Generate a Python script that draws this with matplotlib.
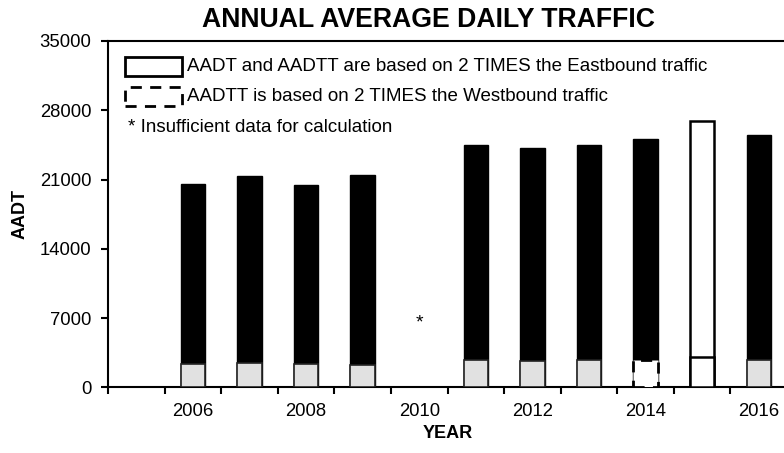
import numpy as np
import matplotlib.pyplot as plt
from matplotlib.patches import Rectangle

plt.rcParams['font.family'] = ['Liberation Sans', 'DejaVu Sans']

# -------------------------------------------------
# Data
# -------------------------------------------------
years = [2006, 2007, 2008, 2009, 2011, 2012, 2013, 2014, 2015, 2016]
aadt = [20600, 21400, 20500, 21500, 24500, 24200, 24500, 25100, 26900, 25500]
aadtt = [2350, 2500, 2350, 2250, 2730, 2700, 2730, 2780, 3050, 2780]
missing_years = [2010]
east_years = [2015]      # AADT and AADTT from 2x eastbound
west_years = [2014]      # AADTT from 2x westbound

yticks = [0, 7000, 14000, 21000, 28000, 35000]
xlabels = [2006, 2008, 2010, 2012, 2014, 2016]

legend_lines = ["AADT and AADTT are based on 2 TIMES the Eastbound traffic",
                "AADTT is based on 2 TIMES the Westbound traffic",
                "* Insufficient data for calculation"]

# -------------------------------------------------
# Plot
# -------------------------------------------------
fig = plt.figure(figsize=(7.84, 4.53), dpi=100)
ax = fig.add_axes([0.1378, 0.1446, 0.866, 0.765])

w = 0.43
for yr, v, t in zip(years, aadt, aadtt):
    if yr in east_years:
        ax.bar(yr, v, w, facecolor='white', edgecolor='black', linewidth=1.8, zorder=2)
        ax.bar(yr, t, w, facecolor='white', edgecolor='black', linewidth=1.8, zorder=3)
    elif yr in west_years:
        ax.bar(yr, v, w, facecolor='black', edgecolor='black', linewidth=1, zorder=2)
        ax.bar(yr, t, w, facecolor='white', edgecolor='black', linewidth=2,
               linestyle=(0, (4, 3)), zorder=3)
    else:
        ax.bar(yr, v, w, facecolor='black', edgecolor='black', linewidth=1, zorder=2)
        ax.bar(yr, t, w, facecolor='#e1e1e1', edgecolor='#222222', linewidth=1.2, zorder=3)

for yr in missing_years:
    ax.text(yr, 6500, '*', ha='center', va='center', fontsize=14)

ax.set_xlim(2004.5, 2016.5)
ax.set_ylim(0, 35000)
ax.set_yticks(yticks)
ax.set_xticks(xlabels)
ax.set_xticks(np.arange(2004.5, 2017, 1.0), minor=True)
ax.tick_params(axis='x', which='major', length=0, labelsize=13.3, pad=11)
ax.tick_params(axis='x', which='minor', length=5, width=1.5, direction='out')
ax.tick_params(axis='y', length=5, width=1.5, direction='out', labelsize=13.3, pad=7)
for s in ax.spines.values():
    s.set_linewidth(1.5)

ax.set_xlabel("YEAR", fontsize=13, fontweight='bold', labelpad=4)
ax.set_ylabel("AADT", fontsize=13, fontweight='bold', labelpad=8)
fig.text(0.546, 0.955, "ANNUAL AVERAGE DAILY TRAFFIC", ha='center', va='center',
         fontsize=19.2, fontweight='bold')

# legend drawn by hand
ax.add_patch(Rectangle((0.025, 0.899), 0.084, 0.055, transform=ax.transAxes,
                       facecolor='white', edgecolor='black', linewidth=2, zorder=5))
ax.add_patch(Rectangle((0.025, 0.812), 0.084, 0.055, transform=ax.transAxes,
                       facecolor='white', edgecolor='black', linewidth=2,
                       linestyle=(0, (4, 3)), zorder=5))
ax.text(0.117, 0.926, legend_lines[0], transform=ax.transAxes, va='center', fontsize=13.5)
ax.text(0.117, 0.839, legend_lines[1], transform=ax.transAxes, va='center', fontsize=13.5)
ax.text(0.029, 0.750, legend_lines[2], transform=ax.transAxes, va='center', fontsize=13.5)

fig.savefig("out.png", dpi=100)
